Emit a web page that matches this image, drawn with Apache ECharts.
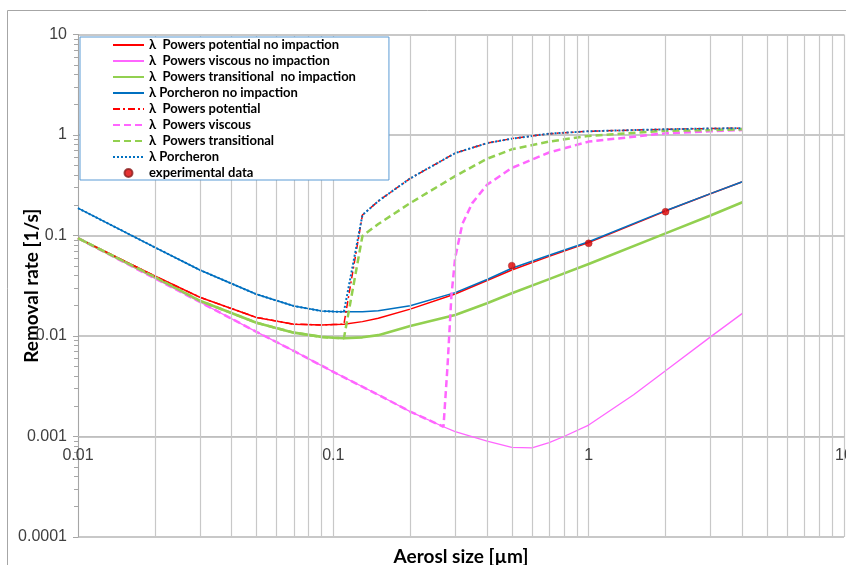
<!DOCTYPE html>
<html><head><meta charset="utf-8">
<script src="https://cdn.jsdelivr.net/npm/echarts@6/dist/echarts.min.js"></script>
<style>html,body{margin:0;padding:0;background:#fff}#c{width:846px;height:565px}</style>
</head><body><div id="c"></div>
<script>
// ---- data ----
const sizes = [0.01,0.02,0.03,0.05,0.07,0.09,0.1,0.11,0.13,0.15,0.2,0.3,0.4,0.5,0.7,1,2,3,4];
const powersPotentialNoImp   = [0.094,0.0395,0.0243,0.0153,0.0131,0.0129,0.0130,0.0131,0.0139,0.0150,0.0185,0.0262,0.0357,0.0454,0.062,0.085,0.175,0.26,0.343];
const powersTransitionalNoImp= [0.094,0.0385,0.0224,0.01355,0.0108,0.0098,0.0096,0.0095,0.0097,0.0102,0.0126,0.0162,0.0212,0.0266,0.0368,0.052,0.105,0.158,0.214];
const porcheronNoImp         = [0.187,0.0762,0.0454,0.026,0.0199,0.0177,0.0175,0.0174,0.0174,0.0178,0.0200,0.0270,0.0365,0.0472,0.0635,0.0867,0.1766,0.261,0.343];
const powersPotential        = [0.094,0.0395,0.0243,0.0153,0.0131,0.0129,0.0130,0.0131,0.16,0.22,0.37,0.66,0.83,0.92,1.03,1.09,1.14,1.16,1.17];
const powersTransitional     = [0.094,0.0385,0.0224,0.01355,0.0108,0.0098,0.0096,0.0095,0.099,0.13,0.21,0.39,0.58,0.72,0.86,0.98,1.10,1.12,1.14];
const porcheron              = [0.187,0.0762,0.0454,0.026,0.0199,0.0177,0.0175,0.0174,0.16,0.22,0.37,0.66,0.83,0.92,1.03,1.09,1.14,1.16,1.17];
const viscousNoImpSizes = [0.01,0.02,0.03,0.05,0.07,0.1,0.15,0.2,0.27,0.3,0.4,0.5,0.6,0.7,0.8,1,1.5,2,3,4];
const powersViscousNoImp = [0.094,0.0374,0.0218,0.011,0.0071,0.0044,0.0026,0.00177,0.00125,0.00112,0.0009,0.00078,0.00077,0.00087,0.001,0.0013,0.0026,0.0045,0.0098,0.0168];
const viscousSizes = [0.01,0.02,0.03,0.05,0.07,0.1,0.15,0.2,0.27,0.28,0.29,0.3,0.32,0.35,0.4,0.5,0.7,1,2,3,4];
const powersViscous = [0.094,0.0374,0.0218,0.011,0.0071,0.0044,0.0026,0.00177,0.00125,0.005,0.025,0.06,0.13,0.21,0.32,0.47,0.67,0.86,1.04,1.09,1.12];
const expSizes = [0.5, 1, 2];
const expRates = [0.0501, 0.0836, 0.1725];
const xMinorGrid = [0.02,0.03,0.04,0.05,0.06,0.07,0.08,0.09,0.2,0.3,0.4,0.5,0.6,0.7,0.8,0.9,2,3,4,5,6,7,8,9];
const yMinorTicks = [];
[0.0001,0.001,0.01,0.1,1].forEach(d => { for (let k = 2; k <= 9; k++) yMinorTicks.push(Number((d*k).toPrecision(3))); });

const legendNames = ['λ  Powers potential no impaction','λ  Powers viscous no impaction','λ  Powers transitional  no impaction','λ Porcheron no impaction','λ  Powers potential','λ  Powers viscous','λ  Powers transitional','λ Porcheron','experimental data'];

// ---- chart ----
const pairs = (xs, ys) => xs.map((x, i) => [x, ys[i]]);
const fmt = v => String(Number(Number(v).toPrecision(6)));
const RED = '#FF0000', PINK = '#FF66FF', GREEN = '#92D050', BLUE = '#0070C0';
const lineSeries = (name, xs, ys, color, width, type, z) => ({
  name, type: 'line', data: pairs(xs, ys), symbol: 'none', showSymbol: false, smooth: false, z: z || 3,
  lineStyle: { color, width, type }, itemStyle: { color }, emphasis: { disabled: true }
});

const chart = echarts.init(document.getElementById('c'), null, { renderer: 'canvas' });
chart.setOption({
  animation: false,
  backgroundColor: '#fff',
  textStyle: { fontFamily: 'Liberation Sans' },
  grid: { left: 78, right: 2, top: 34.5, bottom: 28, containLabel: false, outerBoundsMode: 'none' },
  graphic: [{ type: 'rect', silent: true, z: -10, shape: { x: 7.5, y: 10.5, width: 900, height: 700 }, style: { fill: 'none', stroke: '#A6A6A6', lineWidth: 1 } }],
  legend: {
    data: legendNames.map((n, i) => i < 8 ? { name: n, itemStyle: { opacity: 0 } } : { name: n }),
    orient: 'vertical', left: 80, top: 37,
    itemWidth: 31, itemHeight: 8, itemGap: 2,
    padding: [1, 33, 0, 32],
    backgroundColor: '#fff', borderColor: '#5B9BD5', borderWidth: 1, borderRadius: 0,
    textStyle: { fontFamily: 'Lato', fontWeight: 'bold', fontSize: 13, color: '#000', lineHeight: 14 },
    selectedMode: false, z: 20
  },
  xAxis: [{
    type: 'log', logBase: 10, min: 0.01, max: 10, offset: -100.5,
    axisLine: { show: true, lineStyle: { color: '#BFBFBF', width: 1 } },
    axisTick: { show: false },
    axisLabel: { formatter: fmt, color: '#404040', fontSize: 16, margin: 11, fontFamily: 'Liberation Sans' },
    splitLine: { show: true, lineStyle: { color: '#C8C8C8', width: 1.2 } },
    minorTick: { show: false }, minorSplitLine: { show: false }
  }, {
    type: 'log', logBase: 10, min: 0.01, max: 10, position: 'bottom',
    axisLine: { show: false }, axisTick: { show: false }, axisLabel: { show: false }, splitLine: { show: false },
    name: 'Aerosl size [µm]', nameLocation: 'middle', nameGap: 10, nameMoveOverlap: false,
    nameTextStyle: { fontFamily: 'Lato', fontWeight: 'bold', fontSize: 19, color: '#000', verticalAlign: 'top' }
  }],
  yAxis: [{
    type: 'log', logBase: 10, min: 0.0001, max: 10,
    axisLine: { show: true, lineStyle: { color: '#A6A6A6', width: 1 } },
    axisTick: { show: true, length: 5, lineStyle: { color: '#A6A6A6' } },
    axisLabel: { formatter: fmt, color: '#404040', fontSize: 16, margin: 11, fontFamily: 'Liberation Sans' },
    splitLine: { show: true, lineStyle: { color: '#C8C8C8', width: 2 } },
    name: 'Removal rate [1/s]', nameLocation: 'middle', nameGap: 37, nameRotate: 90, nameMoveOverlap: false,
    nameTextStyle: { fontFamily: 'Lato', fontWeight: 'bold', fontSize: 19, color: '#000' }
  }, {
    type: 'log', logBase: 10, min: 0.0001, max: 10, position: 'left',
    axisLine: { show: false }, axisLabel: { show: false }, splitLine: { show: false },
    axisTick: { show: true, length: 4, customValues: yMinorTicks, lineStyle: { color: '#A6A6A6' } }
  }],
  series: [
    lineSeries(legendNames[0], sizes, powersPotentialNoImp, RED, 1.5, 'solid'),
    lineSeries(legendNames[1], viscousNoImpSizes, powersViscousNoImp, PINK, 1.3, 'solid'),
    lineSeries(legendNames[2], sizes, powersTransitionalNoImp, GREEN, 2.6, 'solid'),
    lineSeries(legendNames[3], sizes, porcheronNoImp, BLUE, 1.5, 'solid'),
    lineSeries(legendNames[4], sizes, powersPotential, RED, 1.5, [7, 3, 2, 3]),
    lineSeries(legendNames[5], viscousSizes, powersViscous, PINK, 2.5, [7, 4]),
    lineSeries(legendNames[6], sizes, powersTransitional, GREEN, 2.5, [7, 4]),
    lineSeries(legendNames[7], sizes, porcheron, BLUE, 2, [2, 2]),
    {
      name: legendNames[8], type: 'scatter', data: pairs(expSizes, expRates), symbol: 'circle', symbolSize: 7, z: 5,
      itemStyle: { color: '#E00000', borderColor: '#8B2020', borderWidth: 0.5 }, emphasis: { disabled: true }
    },
    {
      name: 'minor grid', type: 'line', data: [], z: 1, silent: true,
      markLine: { silent: true, symbol: 'none', label: { show: false }, animation: false,
        lineStyle: { color: '#C8C8C8', width: 1.2, type: 'solid' },
        data: xMinorGrid.map(v => ({ xAxis: v })) }
    }
  ]
});
</script>
</body></html>
